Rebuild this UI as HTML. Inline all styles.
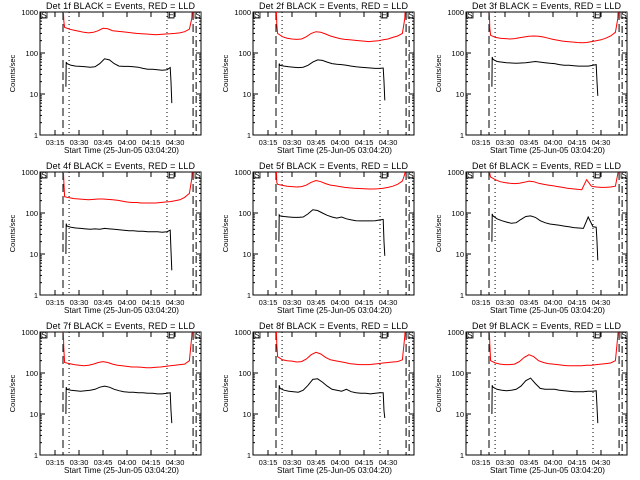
<!DOCTYPE html>
<html><head><meta charset="utf-8"><style>
html,body{margin:0;padding:0;background:#fff;}
svg{display:block;font-family:"Liberation Sans",sans-serif;}
</style></head><body>
<svg id="chart" width="640" height="480" viewBox="0 0 640 480" xmlns="http://www.w3.org/2000/svg"></svg>
<script>
// shared data
const redTimes = [20,20.5,21,24,27,30,33,36,39,42,45,48,51,54,57,60,63,66,69,72,75,78,81,84,87,90,93,96,99,100.5,101];
const blackTimes = [21.8,22,22.5,25,28,31,34,37,40,43,46,49,52,55,58,61,64,67,70,73,76,79,82,85,87,87.5,88];
const xTickLabels = ["03:15","03:30","03:45","04:00","04:15","04:30"];
const xTickTimes = [15,30,45,60,75,90];
const yTickValues = [1,10,100,1000];
const yTickLabels = ["1","10","100","1000"];
const panelNames = ["1f","2f","3f","4f","5f","6f","7f","8f","9f"];
const red1 = [2000,600,420,380,360,340,320,310,320,350,400,390,350,340,330,320,310,300,295,290,285,280,285,290,295,300,310,330,380,700,2000];
const black1 = [15,60,55,50,48,47,46,45,46,55,72,68,55,48,47,47,46,45,42,40,40,39,38,39,44,20,6];
const red2 = [2000,500,300,250,230,220,215,220,250,300,330,320,290,260,240,225,215,210,205,200,195,190,195,200,210,220,240,260,300,700,2000];
const black2 = [10,55,50,48,46,45,44,45,50,60,68,66,60,55,53,52,50,48,46,45,44,43,42,42,43,20,7];
const red3 = [2000,400,270,240,230,225,220,225,235,245,255,260,255,245,230,215,205,195,190,185,180,178,180,190,200,210,230,260,320,700,2000];
const black3 = [15,80,70,62,60,58,57,56,57,58,60,62,60,58,56,55,52,50,50,49,48,48,48,50,52,20,9];
const red4 = [2000,600,250,235,225,220,215,210,215,220,220,215,210,205,195,185,180,180,175,175,175,175,180,185,190,200,210,240,300,700,2000];
const black4 = [10,55,48,45,43,42,41,40,41,40,42,41,40,39,38,37,37,36,36,35,35,35,34,35,38,12,4];
const red5 = [2000,550,500,470,450,440,430,440,480,560,620,580,520,480,460,440,420,410,400,395,390,385,385,390,400,420,450,500,600,900,2000];
const black5 = [20,90,85,82,80,78,78,80,95,120,115,100,88,80,75,80,72,68,65,64,64,64,65,68,70,20,9];
const red6 = [2000,900,750,650,580,550,530,520,530,560,600,580,530,500,480,460,440,420,400,390,380,370,650,450,430,420,420,430,450,900,2000];
const black6 = [20,95,85,72,65,60,56,58,70,82,85,78,65,58,54,52,50,48,46,44,43,42,80,46,45,20,7];
const red7 = [2000,400,180,170,160,155,150,155,165,180,190,180,165,155,150,145,140,140,138,135,135,138,140,145,150,155,160,165,200,800,2000];
const black7 = [10,45,40,38,37,36,37,38,40,45,48,45,40,37,35,34,34,33,33,32,32,31,31,32,33,12,6];
const red8 = [2000,500,250,210,200,195,185,190,220,280,320,290,240,210,200,190,180,170,165,160,160,160,165,170,175,180,185,190,210,800,2000];
const black8 = [8,50,42,38,36,35,34,38,50,70,72,60,48,40,38,36,40,35,33,32,32,31,32,33,33,12,8];
const red9 = [2000,500,200,175,165,160,160,165,190,240,280,250,200,180,170,165,160,155,150,150,150,150,155,155,160,165,170,175,200,800,2000];
const black9 = [10,50,45,40,38,37,38,40,48,65,75,55,42,40,40,40,38,37,36,35,35,35,36,36,37,15,6];
const redSeries = [red1,red2,red3,red4,red5,red6,red7,red8,red9];
const blackSeries = [black1,black2,black3,black4,black5,black6,black7,black8,black9];
const markerTimes = {dashL:20, dotL:23.8, dotR:85, dashR:101.3, dashDotR:103.2};

const NS = "http://www.w3.org/2000/svg";
const svg = document.getElementById('chart');
function mk(tag, attrs, parent){
  const e = document.createElementNS(NS, tag);
  for (const k in attrs) e.setAttribute(k, attrs[k]);
  (parent||svg).appendChild(e);
  return e;
}
const L=40, R=201, T=12, B=135;
function xs(t){ return 55 + (t-15)*1.6; }
function ys(v){ return T + (3 - Math.log10(v)) * (B-T)/3; }

for (let p=0; p<9; p++){
  const ox = (p%3)*213, oy = Math.floor(p/3)*160;
  const g = mk('g', {transform:`translate(${ox},${oy})`});
  
  
  const cp = mk('clipPath', {id:'clip'+p}, g);
  mk('rect', {x:L, y:T, width:R-L, height:B-T}, cp);

  const title = mk('text', {x:46, y:9, 'font-size':9, textLength:149, lengthAdjust:'spacing', fill:'#000'}, g);
  title.textContent = `Det ${panelNames[p]} BLACK = Events, RED = LLD`;
  
  

  const yt = mk('text', {x:0, y:0, 'font-size':7.5, 'text-anchor':'middle', transform:`translate(15,${(T+B)/2}) rotate(-90)`}, g);
  yt.textContent = 'Counts/sec';
  
  

  const xt = mk('text', {x:64, y:153, 'font-size':8.5, textLength:115, lengthAdjust:'spacingAndGlyphs'}, g);
  xt.textContent = 'Start Time (25-Jun-05 03:04:20)';
  
  

  const box = mk('rect', {x:L, y:T, width:R-L, height:B-T, fill:'none', stroke:'#000', 'stroke-width':1}, g);
  
  

  yTickValues.forEach((v,i)=>{
    const y = ys(v);
    mk('line', {x1:L, x2:L+5, y1:y, y2:y, stroke:'#000'}, g);
    mk('line', {x1:R, x2:R-5, y1:y, y2:y, stroke:'#000'}, g);
    const lb = mk('text', {x:L-2, y:y+3, 'font-size':7.5, 'text-anchor':'end'}, g);
    lb.textContent = yTickLabels[i];
    
    
    if (i<3) for (let m=2;m<10;m++){
      const ym = ys(v*m);
      mk('line', {x1:L, x2:L+2, y1:ym, y2:ym, stroke:'#000'}, g);
      mk('line', {x1:R, x2:R-2, y1:ym, y2:ym, stroke:'#000'}, g);
    }
  });
  xTickTimes.forEach((t,i)=>{
    const x = xs(t);
    mk('line', {x1:x, x2:x, y1:B, y2:B-5, stroke:'#000'}, g);
    mk('line', {x1:x, x2:x, y1:T, y2:T+5, stroke:'#000'}, g);
    const lb = mk('text', {x:x, y:B+10, 'font-size':7.5, 'text-anchor':'middle'}, g);
    lb.textContent = xTickLabels[i];
    
    
  });

  const vl = (t, dash, name)=>{
    const l = mk('line', {x1:xs(t), x2:xs(t), y1:T, y2:B, stroke:'#000', 'stroke-width':1, 'stroke-dasharray':dash}, g);
    
    
  };
  vl(markerTimes.dashL, '8,4', 'start-dashed-line');
  vl(markerTimes.dotL, '1,3', 'start-dotted-line');
  vl(markerTimes.dotR, '1,3', 'end-dotted-line');
  vl(markerTimes.dashR, '8,4', 'end-dashed-line');
  vl(markerTimes.dashDotR, '7,3,1,3', 'end-dashdot-line');

  [['S',L+1],['E',xs(markerTimes.dotR)+1],['S',xs(markerTimes.dashR)+2]].forEach(([c,x])=>{
    const mb = mk('rect', {x:x, y:T, width:6, height:6, fill:'#fff', stroke:'#000', 'stroke-width':0.8}, g);
    
    
    const mt = mk('text', {x:x+3, y:T+6, 'font-size':8, 'text-anchor':'middle'}, g);
    mt.textContent = c;
    
    
  });

  const rp = redSeries[p].map((v,i)=>`${xs(redTimes[i]).toFixed(1)},${ys(v).toFixed(1)}`).join(' ');
  const red = mk('polyline', {points:rp, fill:'none', stroke:'#ff0000', 'stroke-width':1, 'clip-path':`url(#clip${p})`}, g);
  
  
  const bp = blackSeries[p].map((v,i)=>`${xs(blackTimes[i]).toFixed(1)},${ys(v).toFixed(1)}`).join(' ');
  const blk = mk('polyline', {points:bp, fill:'none', stroke:'#000', 'stroke-width':1, 'clip-path':`url(#clip${p})`}, g);
  
  
}
</script>
</body></html>
